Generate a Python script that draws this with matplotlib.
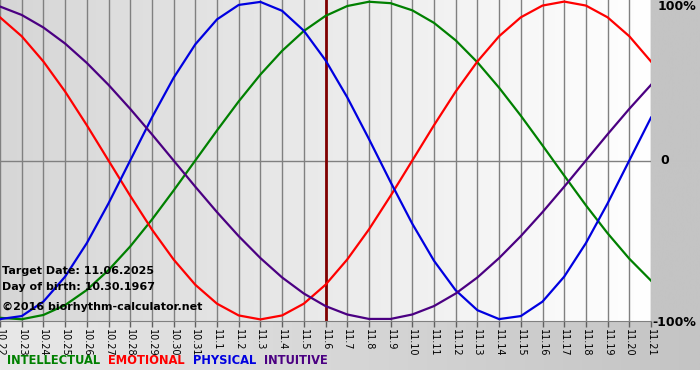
import numpy as np
from matplotlib import pyplot as plt

# days shown on the x axis (10.22 .. 11.21)
days = ['10.22', '10.23', '10.24', '10.25', '10.26', '10.27', '10.28', '10.29', '10.30', '10.31',
        '11.1', '11.2', '11.3', '11.4', '11.5', '11.6', '11.7', '11.8', '11.9', '11.10',
        '11.11', '11.12', '11.13', '11.14', '11.15', '11.16', '11.17', '11.18', '11.19', '11.20', '11.21']
target_idx = 15  # 11.6

physical = [-0.998, -0.979, -0.888, -0.731, -0.520, -0.270, 0.000, 0.270, 0.520, 0.731,
            0.888, 0.979, 0.998, 0.942, 0.817, 0.631, 0.398, 0.136, -0.136, -0.398,
            -0.631, -0.817, -0.942, -0.998, -0.979, -0.888, -0.731, -0.520, -0.270, 0.000, 0.270]
emotional = [0.901, 0.782, 0.623, 0.434, 0.222, 0.000, -0.222, -0.434, -0.623, -0.782,
             -0.901, -0.975, -1.000, -0.975, -0.901, -0.782, -0.623, -0.434, -0.222, 0.000,
             0.222, 0.434, 0.623, 0.782, 0.901, 0.975, 1.000, 0.975, 0.901, 0.782, 0.623]
intellectual = [-0.990, -0.999, -0.972, -0.910, -0.815, -0.690, -0.541, -0.372, -0.189, 0.000,
                0.189, 0.372, 0.541, 0.690, 0.815, 0.910, 0.972, 0.999, 0.990, 0.945,
                0.866, 0.756, 0.618, 0.458, 0.282, 0.095, -0.095, -0.282, -0.458, -0.618, -0.756]
intuitive = [0.969, 0.916, 0.837, 0.736, 0.614, 0.476, 0.325, 0.165, 0.000, -0.165,
             -0.325, -0.476, -0.614, -0.736, -0.837, -0.916, -0.969, -0.997, -0.997, -0.969,
             -0.916, -0.837, -0.736, -0.614, -0.476, -0.325, -0.165, 0.000, 0.165, 0.325, 0.476]

legend_names = ['INTELLECTUAL', 'EMOTIONAL', 'PHYSICAL', 'INTUITIVE']
legend_colors = ['#008000', '#ff0000', '#0000e0', '#4b0082']

W, H = 700, 380
fig = plt.figure(figsize=(W / 100, H / 100), dpi=100)
fig.patch.set_facecolor('white')


def px_axes(x0, y0, x1, y1, **kw):
    # axes from pixel box (top-left origin)
    return fig.add_axes([x0 / W, 1 - y1 / H, (x1 - x0) / W, (y1 - y0) / H], **kw)


def gradient(ax, c_left, c_right):
    g = np.linspace(0, 1, 256)
    c0 = np.array(c_left) / 255
    c1 = np.array(c_right) / 255
    img = c0[None, :] + (c1 - c0)[None, :] * g[:, None]
    ax.imshow(img[None, :, :], aspect='auto', extent=[0, 1, 0, 1])
    ax.set_axis_off()


# background bands
gradient(px_axes(651, 0, 700, 322), (196, 196, 196), (196, 196, 196))
gradient(px_axes(0, 322, 700, 370), (232, 232, 232), (196, 196, 196))

ax = px_axes(0, 0, 651, 321)
bg = ax.inset_axes([0, 0, 1, 1], zorder=-1)
gradient(bg, (214, 214, 214), (255, 255, 255))
ax.patch.set_alpha(0)

x = np.arange(len(days))
for i in x:
    ax.axvline(i, color='#808080', lw=1, zorder=1)
ax.axhline(0, color='#808080', lw=1, zorder=1)
ax.axvline(target_idx, color='#800000', lw=2, zorder=2)

ax.plot(x, intellectual, color=legend_colors[0], lw=1.6, zorder=3)
ax.plot(x, emotional, color=legend_colors[1], lw=1.6, zorder=3)
ax.plot(x, physical, color=legend_colors[2], lw=1.6, zorder=3)
ax.plot(x, intuitive, color=legend_colors[3], lw=1.6, zorder=3)

ax.set_xlim(0, len(days) - 1)
ax.set_ylim(-1.01, 1.01)
ax.set_xticks(x)
ax.set_xticklabels(days, rotation=270, fontsize=7, family='DejaVu Sans')
ax.tick_params(axis='x', length=4, width=1, color='#606060', pad=2)
ax.set_yticks([])
for side in ['top', 'left', 'right']:
    ax.spines[side].set_visible(False)
ax.spines['bottom'].set_color('#808080')

info = {'fontsize': 8, 'fontweight': 'bold', 'color': 'black', 'family': 'DejaVu Sans'}
fig.text(2 / W, 1 - 271 / H, 'Target Date: 11.06.2025', va='center', **info)
fig.text(2 / W, 1 - 287 / H, 'Day of birth: 10.30.1967', va='center', **info)
fig.text(2 / W, 1 - 307 / H, '\u00a92016 biorhythm-calculator.net', va='center', **info)

side = {'fontsize': 9, 'fontweight': 'bold', 'color': 'black', 'family': 'DejaVu Sans'}
fig.text(658 / W, 1 - 7 / H, '100%', va='center', **side)
fig.text(660 / W, 1 - 161 / H, '0', va='center', **side)
fig.text(652 / W, 1 - 322 / H, '-100%', va='center', **side)

lx = 7
for name, col in zip(legend_names, legend_colors):
    t = fig.text(lx / W, 1 - 361 / H, name, va='center', fontsize=8.3, fontweight='bold',
                 color=col, family='DejaVu Sans')
    fig.canvas.draw()
    bb = t.get_window_extent()
    lx = bb.x1 + 8

fig.savefig('out.png', dpi=100)
